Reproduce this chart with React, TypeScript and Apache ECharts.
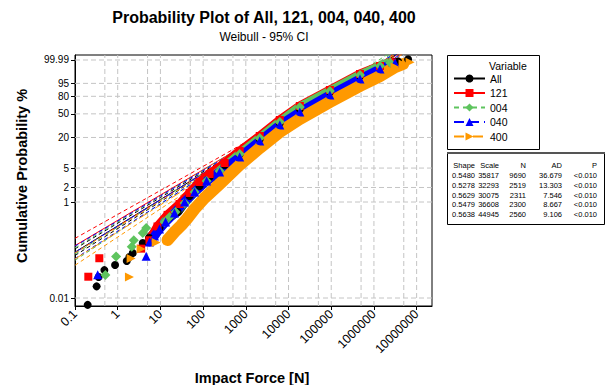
import { useEffect, useRef } from "react";
import * as echarts from "echarts";

// ---- groups and fitted Weibull parameters ----
const groupNames = ["All", "121", "004", "040", "400"];
const groupColors = ["#000000", "#ff0000", "#5ec45e", "#0000ff", "#ff9900"];
const groupSymbols = ["circle", "rect", "diamond", "triangle", "triangle"];
const groupSymbolRotate = [0, 0, 0, 0, -90];
const groupSymbolSize = [8, 8, 10, 9, 9];
const groupDash: any[] = ["solid", "solid", [5, 4], [10, 5], [10, 3, 3, 3]];

const shapeParams = [0.548, 0.5278, 0.5629, 0.5479, 0.5638];
const scaleParams = [35817, 32293, 30075, 36608, 44945];
const sampleN = [9690, 2519, 2311, 2300, 2560];
const adStats = ["36.679", "13.303", "7.546", "8.667", "9.106"];
const pValues = ["<0.010", "<0.010", "<0.010", "<0.010", "<0.010"];

// ---- axis ticks ----
const forceTicks = [0.1, 1, 10, 100, 1000, 10000, 100000, 1000000, 10000000];
const forceTickLabels = ["0.1", "1", "10", "100", "1000", "10000", "100000", "1000000", "10000000"];
const forceGrid = [0.5, 1, 5, 10, 50, 100, 500, 1000, 5000, 10000, 50000, 100000, 500000, 1000000, 5000000, 10000000];
const probTicks = [0.01, 1, 2, 5, 20, 50, 80, 95, 99.99];
const probTickLabels = ["0.01", "1", "2", "5", "20", "50", "80", "95", "99.99"];

// axis extents in plotting units (log10 force, ln(-ln(1-p)))
const xMin = -1;
const xMax = 7.36;
const yMin = -9.594;
const yMax = 2.46;

// ---- plotted observations: [impact force N, cumulative %] ----
const allLoose = [
  [0.198, 0.0072], [0.321, 0.0175], [0.358, 0.0274], [0.487, 0.0382], [0.868, 0.0488],
  [1.63, 0.0591], [1.88, 0.0716], [2.25, 0.0868], [3.86, 0.14], [3680000, 99.982], [6310000, 99.993],
];
const allBand = [
  [5.55, 0.178], [9.53, 0.288], [16.4, 0.488], [25.2, 0.62], [48.2, 1.33], [82.8, 2.14],
  [142, 3.29], [320, 5.77], [719, 9.6], [2120, 18.7], [6250, 36.0], [18400, 58.3],
  [93100, 86.2], [472000, 98.6], [1390000, 99.86], [3130000, 99.975],
];
const g121Loose = [[0.205, 0.0278], [0.371, 0.0675], [3.54, 0.107]];
const g121Band = [
  [5.55, 0.16], [8.55, 0.31], [14.7, 0.54], [28.1, 0.91], [48.2, 1.54], [82.8, 2.59],
  [142, 3.79], [320, 6.33], [719, 11.0], [2120, 21.3], [6250, 40.3], [18400, 63.6],
  [93100, 88.7], [472000, 99.09], [1390000, 99.9], [2660000, 99.972],
];
const g004Loose = [[0.514, 0.0303], [0.917, 0.0736], [2.13, 0.117], [2.38, 0.16], [3.86, 0.227], [4.64, 0.288]];
const g004Band = [
  [12.5, 0.384], [16.4, 0.488], [22.6, 0.62], [36.8, 0.95], [63.1, 1.61], [121, 2.72],
  [244, 4.36], [719, 9.6], [2120, 19.5], [6250, 37.4], [18400, 61.9], [93100, 87.5],
  [472000, 98.87], [1390000, 99.9], [2390000, 99.97],
];
const g040Loose = [[0.34, 0.0304], [4.64, 0.0739]];
const g040Band = [
  [5.55, 0.147], [7.27, 0.196], [9.53, 0.275], [13.2, 0.384], [21.4, 0.591], [36.8, 1.0],
  [63.1, 1.61], [121, 2.72], [244, 4.16], [719, 8.36], [2120, 17.2], [6250, 33.4],
  [18400, 53.1], [93100, 82.0], [472000, 97.5], [1390000, 99.75], [3130000, 99.965],
];
const g400Loose = [[1.88, 0.0273], [2.06, 0.0664], [3.54, 0.105], [7.97, 0.144], [7030000, 99.973]];
const g400Band = [
  [14.7, 0.162], [21.4, 0.238], [31.3, 0.333], [43.3, 0.465], [63.1, 0.716], [108, 1.21],
  [244, 2.36], [719, 5.77], [2120, 12.6], [6250, 25.2], [18400, 41.8], [93100, 70.6],
  [472000, 92.9], [1390000, 98.6], [3130000, 99.86], [4820000, 99.95],
];
const looseSets = [allLoose, g121Loose, g004Loose, g040Loose, g400Loose];
const bandSets = [allBand, g121Band, g004Band, g040Band, g400Band];

// ---- 95% confidence band half-widths (ln(-ln(1-p)) units) at log10 force nodes ----
const ciNodes = [-1, 1, 3, 5, 7.36];
const ciHalfAll = [0.16, 0.1, 0.05, 0.04, 0.07];
const ciHalf121 = [0.35, 0.22, 0.11, 0.08, 0.14];
const ciHalf004 = [0.3, 0.19, 0.1, 0.08, 0.13];
const ciHalf040 = [0.3, 0.19, 0.1, 0.08, 0.13];
const ciHalf400 = [0.3, 0.19, 0.1, 0.08, 0.13];
const ciHalfSets = [ciHalfAll, ciHalf121, ciHalf004, ciHalf040, ciHalf400];

const FONT = "'Liberation Sans', Arial, Helvetica, sans-serif";

const toX = (force: number) => Math.log10(force);
const toY = (pct: number) => Math.log(-Math.log(1 - pct / 100));
const toPts = (arr: number[][]) => arr.map(([f, p]) => [toX(f), toY(p)]);
const fitY = (i: number, lx: number) => shapeParams[i] * (lx * Math.LN10 - Math.log(scaleParams[i]));

function buildOption() {
  const series: any[] = [];

  // dashed reference grid
  const gridStyle = { color: "#c4c4c4", type: [5, 3], width: 1 };
  forceGrid.forEach((f) => {
    series.push({
      type: "line",
      name: "vgrid " + f,
      data: [[toX(f), yMin], [toX(f), yMax]],
      symbol: "none",
      silent: true,
      z: 0,
      lineStyle: gridStyle,
    });
  });
  probTicks.forEach((p) => {
    series.push({
      type: "line",
      name: "hgrid " + p,
      data: [[xMin, toY(p)], [xMax, toY(p)]],
      symbol: "none",
      silent: true,
      z: 0,
      lineStyle: gridStyle,
    });
  });

  // fitted lines and confidence bands
  groupNames.forEach((name, i) => {
    series.push({
      type: "line",
      name,
      data: [[xMin, fitY(i, xMin)], [xMax, fitY(i, xMax)]],
      symbol: groupSymbols[i],
      symbolSize: groupSymbolSize[i],
      symbolRotate: groupSymbolRotate[i],
      showSymbol: false,
      itemStyle: { color: groupColors[i] },
      lineStyle: { color: groupColors[i], width: 1, type: groupDash[i] },
      z: 1,
      silent: true,
    });
    [1, -1].forEach((sgn) => {
      series.push({
        type: "line",
        name: name + (sgn > 0 ? " upper" : " lower"),
        data: ciNodes.map((lx, k) => [lx, fitY(i, lx) + sgn * ciHalfSets[i][k]]),
        symbol: "none",
        smooth: 0.3,
        lineStyle: { color: groupColors[i], width: 1, type: [4, 3] },
        z: 1,
        silent: true,
      });
    });
  });

  // observations
  groupNames.forEach((name, i) => {
    series.push({
      type: "line",
      name: name + " band",
      data: toPts(bandSets[i]),
      symbol: "none",
      lineStyle: { color: groupColors[i], width: i === 4 ? 12 : 9, cap: "round", join: "round" },
      z: 2,
      silent: true,
    });
    series.push({
      type: "scatter",
      name: name + " points",
      data: toPts([...looseSets[i], ...bandSets[i]]),
      symbol: groupSymbols[i],
      symbolSize: groupSymbolSize[i],
      symbolRotate: groupSymbolRotate[i],
      itemStyle: { color: groupColors[i], opacity: 1 },
      z: 2,
      silent: true,
    });
  });

  const yTickVals = probTicks.map(toY);
  const xTickVals = forceTicks.map(toX);

  const tableCols = [475, 499, 526, 562, 597];
  const tableHeader = ["Shape", "Scale", "N", "AD", "P"];
  const tableRows = groupNames.map((_, i) => [
    shapeParams[i].toFixed(4),
    String(scaleParams[i]),
    String(sampleN[i]),
    adStats[i],
    pValues[i],
  ]);
  const tableTexts: any[] = [];
  [tableHeader, ...tableRows].forEach((row, r) => {
    const y = r === 0 ? 165.5 : 175.5 + (r - 1) * 9.8;
    row.forEach((txt, c) => {
      tableTexts.push({
        type: "text",
        x: tableCols[c],
        y,
        style: {
          text: txt,
          fill: "#000",
          fontSize: 7.5,
          fontFamily: FONT,
          textAlign: "right",
          textVerticalAlign: "middle",
        },
      });
    });
  });

  return {
    animation: false,
    backgroundColor: "#ffffff",
    grid: {
      left: 75,
      top: 55,
      width: 357,
      height: 251,
      show: true,
      borderColor: "#000",
      borderWidth: 1,
      backgroundColor: "#fff",
    },
    xAxis: {
      type: "value",
      min: xMin,
      max: xMax,
      axisLine: { show: true, onZero: false, lineStyle: { color: "#000", width: 1 } },
      axisTick: { show: true, length: 4, customValues: xTickVals, lineStyle: { color: "#000" } },
      axisLabel: {
        customValues: xTickVals,
        rotate: 45,
        margin: 6,
        fontSize: 12.5,
        fontFamily: FONT,
        color: "#000",
        formatter: (v: number) => {
          let best = 0;
          xTickVals.forEach((t, k) => {
            if (Math.abs(t - v) < Math.abs(xTickVals[best] - v)) best = k;
          });
          return forceTickLabels[best];
        },
      },
      splitLine: { show: false },
    },
    yAxis: {
      type: "value",
      min: yMin,
      max: yMax,
      axisLine: { show: true, onZero: false, lineStyle: { color: "#000", width: 1 } },
      axisTick: { show: true, length: 4, customValues: yTickVals, lineStyle: { color: "#000" } },
      axisLabel: {
        customValues: yTickVals,
        margin: 6,
        fontSize: 10,
        fontFamily: FONT,
        color: "#000",
        formatter: (v: number) => {
          let best = 0;
          yTickVals.forEach((t, k) => {
            if (Math.abs(t - v) < Math.abs(yTickVals[best] - v)) best = k;
          });
          return probTickLabels[best];
        },
      },
      splitLine: { show: false },
    },
    legend: {
      orient: "vertical",
      left: 453,
      top: 73,
      padding: 0,
      itemWidth: 31,
      itemHeight: 10,
      itemGap: 3.5,
      selectedMode: false,
      data: groupNames,
      textStyle: { fontSize: 10.5, fontFamily: FONT, color: "#000" },
    },
    graphic: [
      {
        type: "text",
        x: 264,
        y: 17,
        style: {
          text: "Probability Plot of All, 121, 004, 040, 400",
          fill: "#000",
          fontSize: 16,
          fontWeight: "bold",
          fontFamily: FONT,
          textAlign: "center",
          textVerticalAlign: "middle",
        },
      },
      {
        type: "text",
        x: 264,
        y: 37,
        style: {
          text: "Weibull - 95% CI",
          fill: "#000",
          fontSize: 12,
          fontFamily: FONT,
          textAlign: "center",
          textVerticalAlign: "middle",
        },
      },
      {
        type: "text",
        x: 252,
        y: 378,
        style: {
          text: "Impact Force [N]",
          fill: "#000",
          fontSize: 14.5,
          fontWeight: "bold",
          fontFamily: FONT,
          textAlign: "center",
          textVerticalAlign: "middle",
        },
      },
      {
        type: "text",
        x: 22,
        y: 176,
        rotation: Math.PI / 2,
        style: {
          text: "Cumulative Probability %",
          fill: "#000",
          fontSize: 14.5,
          fontWeight: "bold",
          fontFamily: FONT,
          textAlign: "center",
          textVerticalAlign: "middle",
        },
      },
      {
        type: "rect",
        shape: { x: 447.5, y: 55.5, width: 92, height: 94 },
        style: { fill: "#fff", stroke: "#000", lineWidth: 1 },
        z: -1,
      },
      {
        type: "text",
        x: 489,
        y: 66,
        style: {
          text: "Variable",
          fill: "#000",
          fontSize: 10.5,
          fontFamily: FONT,
          textVerticalAlign: "middle",
        },
      },
      {
        type: "rect",
        shape: { x: 447.5, y: 153.5, width: 157, height: 71 },
        style: { fill: "#fff", stroke: "#000", lineWidth: 1 },
        z: -1,
      },
      {
        type: "line",
        shape: { x1: 447, y1: 153, x2: 605, y2: 153 },
        style: { stroke: "#555", lineWidth: 2 },
      },
      ...tableTexts,
    ],
    series,
  };
}

export default function App() {
  const ref = useRef<HTMLDivElement>(null);
  useEffect(() => {
    if (!ref.current) return;
    const chart = echarts.init(ref.current, undefined, { renderer: "svg" });
    chart.setOption(buildOption() as any);
    return () => chart.dispose();
  }, []);
  return (
    <div
      ref={ref}
      style={{ position: "fixed", left: 0, top: 0, width: 606, height: 385, background: "#fff" }}
    />
  );
}
